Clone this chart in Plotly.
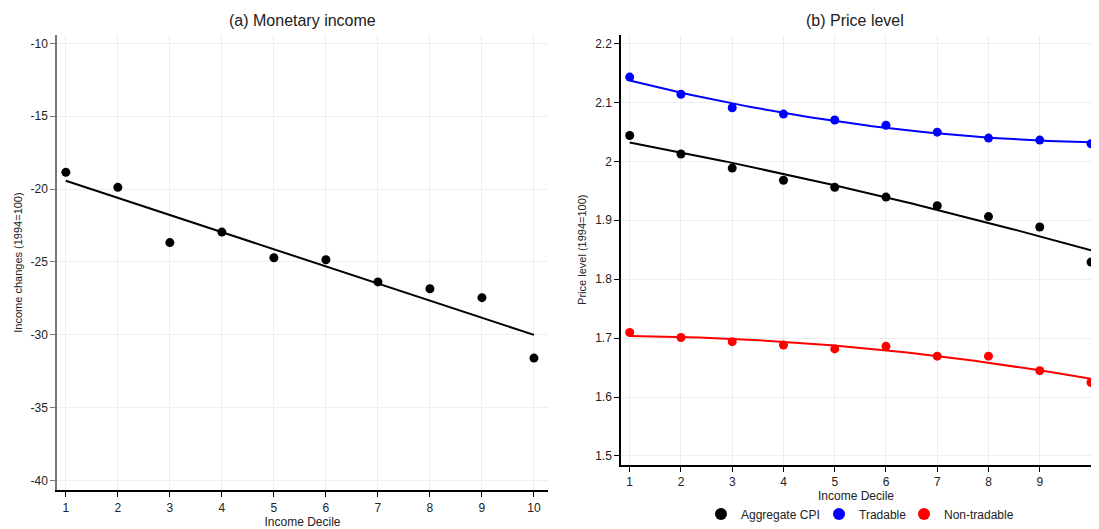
import numpy as np
import plotly.graph_objects as go

deciles = [1, 2, 3, 4, 5, 6, 7, 8, 9, 10]
income_change = [-18.85, -19.88, -23.67, -22.95, -24.71, -24.85, -26.37, -26.84, -27.45, -31.60]
cpi_aggregate = [2.0439, 2.0125, 1.9885, 1.9678, 1.9560, 1.9393, 1.9247, 1.9062, 1.8886, 1.8290]
cpi_tradable = [2.1429, 2.1138, 2.0909, 2.0802, 2.0702, 2.0612, 2.0495, 2.0394, 2.0360, 2.0299]
cpi_nontradable = [1.7095, 1.7011, 1.6939, 1.6883, 1.6816, 1.6860, 1.6693, 1.6693, 1.6447, 1.6246]

income_ticks = [-10, -15, -20, -25, -30, -35, -40]
income_ticktext = ["-10", "-15", "-20", "-25", "-30", "-35", "-40"]
price_ticks = [1.5, 1.6, 1.7, 1.8, 1.9, 2.0, 2.1, 2.2]
price_ticktext = ["1.5", "1.6", "1.7", "1.8", "1.9", "2", "2.1", "2.2"]

x = np.array(deciles, dtype=float)
xf = np.linspace(1, 10, 100)

FONT = "Liberation Sans, Arial, sans-serif"
OFF = 8  # page body margin
W, H = 1099 - 2 * OFF, 529 - OFF


def px_x(p):
    return (p - OFF) / W


def px_y(p):
    return (H - (p - OFF)) / H


fig = go.Figure()

# Panel (a): income changes with linear fit
lin = np.polyfit(x, income_change, 1)
fig.add_trace(go.Scatter(x=xf, y=np.polyval(lin, xf), mode="lines",
                         line=dict(color="black", width=2), showlegend=False,
                         xaxis="x", yaxis="y", hoverinfo="skip"))
fig.add_trace(go.Scatter(x=deciles, y=income_change, mode="markers",
                         marker=dict(color="black", size=9), showlegend=False,
                         xaxis="x", yaxis="y"))

# Panel (b): price levels with quadratic fits
series = [("Aggregate CPI", cpi_aggregate, "black", "legend"),
          ("Tradable", cpi_tradable, "#0000ff", "legend2"),
          ("Non-tradable", cpi_nontradable, "#ff0000", "legend3")]
for name, vals, col, lg in series:
    q = np.polyfit(x, vals, 2)
    fig.add_trace(go.Scatter(x=xf, y=np.polyval(q, xf), mode="lines",
                             line=dict(color=col, width=2), showlegend=False,
                             xaxis="x2", yaxis="y2", hoverinfo="skip"))
for name, vals, col, lg in series:
    fig.add_trace(go.Scatter(x=deciles, y=vals, mode="markers", name=name,
                             marker=dict(color=col, size=9), legend=lg,
                             xaxis="x2", yaxis="y2"))

grid = "#e9f0f2"
tickfont = dict(family=FONT, size=12, color="#222")

common_x = dict(tickmode="array", tickvals=deciles, ticks="outside", ticklen=5,
                showgrid=True, gridcolor=grid, gridwidth=1, zeroline=False,
                showline=True, linewidth=1.5, tickfont=tickfont,
                title_font=dict(family=FONT, size=12, color="#222"),
                title_standoff=4)


def legend_at(px_marker):
    return dict(orientation="h", x=px_x(px_marker - 20), xanchor="left",
                y=px_y(521), yanchor="middle",
                font=dict(family=FONT, size=12, color="#222"),
                itemsizing="constant", bgcolor="rgba(0,0,0,0)",
                borderwidth=0)


fig.update_layout(
    width=W, height=H,
    margin=dict(l=0, r=0, t=0, b=0),
    plot_bgcolor="white", paper_bgcolor="white",
    font=dict(family=FONT, color="#222"),
    xaxis=dict(common_x, domain=[px_x(57), px_x(548)], range=[0.83, 10.27],
               anchor="y", linecolor="black", tickcolor="black",
               title_text="Income Decile"),
    yaxis=dict(domain=[px_y(497), px_y(35)], range=[-40.68, -9.4],
               tickmode="array", tickvals=income_ticks, ticktext=income_ticktext,
               ticks="outside", ticklen=5, showgrid=True, gridcolor=grid,
               zeroline=False, showline=True, linewidth=1.5,
               linecolor="#777", tickcolor="#777", tickfont=tickfont,
               anchor="x", title_text="Income changes (1994=100)",
               title_font=dict(family=FONT, size=11, color="#222"),
               title_standoff=6),
    xaxis2=dict(common_x, domain=[px_x(621), 1.0], range=[0.83, 10.0],
                anchor="y2", linecolor="black", tickcolor="black",
                title_text="Income Decile"),
    yaxis2=dict(domain=[px_y(471), px_y(35)], range=[1.485, 2.215],
                tickmode="array", tickvals=price_ticks, ticktext=price_ticktext,
                ticks="outside", ticklen=5, showgrid=True, gridcolor=grid,
                zeroline=False, showline=True, linewidth=1.5,
                linecolor="black", tickcolor="black", tickfont=tickfont,
                anchor="x2", title_text="Price level (1994=100)",
                title_font=dict(family=FONT, size=11, color="#222"),
                title_standoff=6),
    legend=legend_at(721),
    legend2=legend_at(839),
    legend3=legend_at(924),
    showlegend=True,
    annotations=[
        dict(text="(a) Monetary income", x=px_x(302), y=px_y(21), xref="paper",
             yref="paper", showarrow=False, xanchor="center", yanchor="middle",
             font=dict(family=FONT, size=16, color="#222")),
        dict(text="(b) Price level", x=px_x(855), y=px_y(21), xref="paper",
             yref="paper", showarrow=False, xanchor="center", yanchor="middle",
             font=dict(family=FONT, size=16, color="#222")),
    ],
)

fig.write_html("out.html")
